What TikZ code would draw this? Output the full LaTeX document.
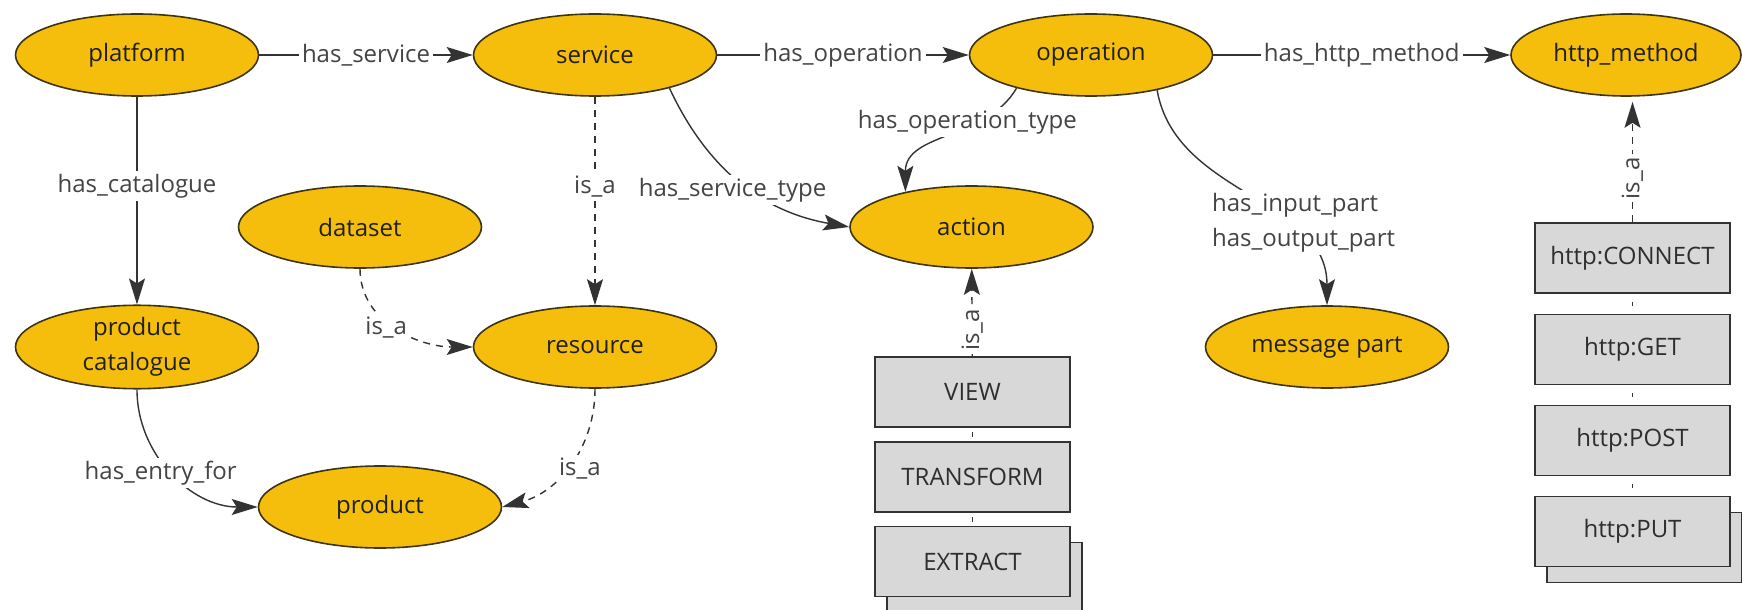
\documentclass[tikz,border=0pt]{standalone}
\usepackage{fontspec}
\setmainfont{Open Sans}
\usetikzlibrary{shapes.geometric,arrows.meta,shadows}
\definecolor{conceptfill}{HTML}{F5BE0C}
\definecolor{conceptline}{HTML}{3D3414}
\definecolor{edgeline}{HTML}{333333}
\definecolor{labeltext}{HTML}{444444}
\definecolor{boxfill}{HTML}{D8D8D8}
\begin{document}
\begin{tikzpicture}[x=0.5pt,y=-0.5pt,
  font=\fontsize{12}{17.5}\selectfont,
  concept/.style={ellipse, draw=conceptline, line width=0.8pt, fill=conceptfill,
    minimum width=121.5pt, minimum height=41pt, inner sep=0pt, text=black!88, align=center},
  inst/.style={rectangle, draw=edgeline, line width=0.8pt, fill=boxfill,
    minimum width=97.5pt, minimum height=35pt, inner sep=0pt, text=black!82},
  stackbox/.style={inst, copy shadow={shadow xshift=6pt, shadow yshift=-8pt,
    fill=boxfill, draw=edgeline, line width=0.8pt}},
  rel/.style={draw=edgeline, line width=0.7pt, -{Stealth[length=13pt,width=8pt,inset=2.5pt]}},
  isa/.style={rel, dash pattern=on 3.5pt off 3pt},
  chain/.style={draw=edgeline, line width=0.6pt},
  lbl/.style={fill=white, inner sep=1.5pt, text=labeltext},
]
\useasboundingbox (0,0) rectangle (1742,610);

% classes
\node[concept] (platform) at (137,55) {platform};
\node[concept] (service) at (595,55) {service};
\node[concept] (operation) at (1091,55) {operation};
\node[concept, minimum width=115pt] (httpm) at (1626,55) {http\_method};
\node[concept] (dataset) at (360,227) {dataset};
\node[concept] (action) at (971.5,227) {action};
\node[concept] (pc) at (137,347) {product\\catalogue};
\node[concept] (resource) at (595,347) {resource};
\node[concept] (message) at (1327,347) {message part};
\node[concept] (product) at (380,507) {product};

% action instances
\node[inst] (view) at (972.5,392) {VIEW};
\node[inst] (transform) at (972.5,477) {TRANSFORM};
\node[stackbox] (extract) at (972.5,561.5) {EXTRACT};

% http method instances
\node[inst] (connect) at (1632.5,258) {http:CONNECT};
\node[inst] (get) at (1632.5,349.5) {http:GET};
\node[inst] (post) at (1632.5,440.5) {http:POST};
\node[stackbox] (put) at (1632.5,531.5) {http:PUT};

% properties
\draw[rel] (platform) -- node[lbl]{has\_service} (service);
\draw[rel] (service) -- node[lbl]{has\_operation} (operation);
\draw[rel] (operation) -- node[lbl]{has\_http\_method} (httpm);
\draw[rel] (platform) -- node[lbl,pos=0.43]{has\_catalogue} (pc);
\draw[rel] (service.-24) to[out=-65,in=170] node[lbl,pos=0.5,xshift=-4pt,yshift=-4pt]{has\_service\_type} (action.west);
\draw[rel] (operation.-156) to[out=-120,in=90] node[lbl,pos=0.3,xshift=-6pt]{has\_operation\_type} (action.152);
\draw[rel] (operation.-28) to[out=-80,in=90] node[lbl,pos=0.65,xshift=10pt,align=left]{has\_input\_part\\has\_output\_part} (message);
\draw[rel] (pc) to[out=-90,in=180] node[lbl,xshift=-6pt]{has\_entry\_for} (product);

% subclass links
\draw[isa] (service) -- node[lbl,pos=0.43]{is\_a} (resource);
\draw[isa] (dataset) to[out=-90,in=180] node[lbl,xshift=-5pt]{is\_a} (resource);
\draw[isa] (resource) to[out=-90,in=15] node[lbl,xshift=5pt,yshift=-2pt]{is\_a} (product.east);

% instance links
\draw[isa] (view) -- node[lbl,rotate=90,pos=0.3]{is\_a} (action);
\draw[chain, shorten <=2pt, shorten >=2pt] (view) -- (transform);
\draw[chain, shorten <=2pt, shorten >=2pt] (transform) -- (extract);
\draw[isa, shorten >=2.5pt] (connect.north) -- node[lbl,rotate=90,pos=0.35]{is\_a} (connect |- httpm.south);
\draw[chain, shorten <=4pt, shorten >=4pt] (connect) -- (get);
\draw[chain, shorten <=4pt, shorten >=4pt] (get) -- (post);
\draw[chain, shorten <=4pt, shorten >=4pt] (post) -- (put);
\end{tikzpicture}
\end{document}
